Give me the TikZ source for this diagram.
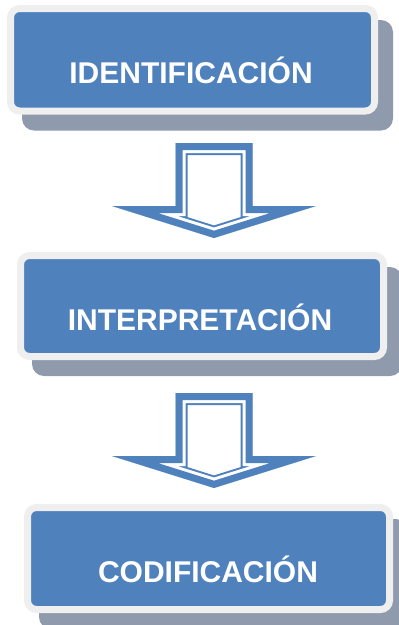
\documentclass[tikz,border=0pt]{standalone}
\usepackage{fontspec}
\setmainfont{Liberation Sans}
\usetikzlibrary{backgrounds}
\definecolor{boxblue}{HTML}{4F81BD}
\definecolor{rimgray}{HTML}{EFEFEF}
\definecolor{shadowc}{RGB}{143,155,173}
\tikzset{
  procbox/.style={draw=rimgray, line width=7pt, fill=boxblue, rounded corners=9pt,
    inner sep=0pt, outer sep=3.5pt},
  lbl/.style={text=white, font=\fontsize{30}{36}\selectfont\bfseries, inner sep=0pt, anchor=base},
  shadowbox/.style={fill=shadowc, rounded corners=12pt},
}
\newcommand{\downarrowpath}{(-38.5,0) -- (38.5,0) -- (38.5,63) -- (102,63) -- (0,95) -- (-102,63) -- (-38.5,63) -- cycle}
\newcommand{\compoundarrow}[1]{%
  \begin{scope}[shift={(#1)}, line join=miter, miter limit=20]
    \begin{scope}
      \clip \downarrowpath;
      \fill[white] \downarrowpath;
      \draw[boxblue, line width=24pt] \downarrowpath;
      \draw[white, line width=20pt] \downarrowpath;
      \draw[boxblue, line width=14pt] \downarrowpath;
    \end{scope}
  \end{scope}}
\begin{document}
\begin{tikzpicture}[x=1pt, y=-1pt]
\useasboundingbox (0,0) rectangle (399,625);
\clip (0,0) rectangle (399,625);

\node[procbox, minimum width=364pt, minimum height=102.5pt] (b1) at (192.5,59.75) {};
\node[procbox, minimum width=363pt, minimum height=101pt] (b2) at (202,306) {};
\node[procbox, minimum width=362pt, minimum height=102pt] (b3) at (208.5,558.5) {};

\begin{scope}[on background layer]
  \foreach \b in {b1,b2,b3}{
    \fill[shadowbox] ([xshift=15pt,yshift=-15pt]\b.north west) rectangle ([xshift=15pt,yshift=-16pt]\b.south east);
  }
\end{scope}

\node[lbl] (t1) at (191,83) {IDENTIFICACIÓN};
\node[lbl] (t2) at (200,330) {INTERPRETACIÓN};
\node[lbl] (t3) at (208,582) {CODIFICACIÓN};

\coordinate (a1) at (214,143);
\coordinate (a2) at (214,393);
\compoundarrow{a1}
\compoundarrow{a2}
\end{tikzpicture}
\end{document}
